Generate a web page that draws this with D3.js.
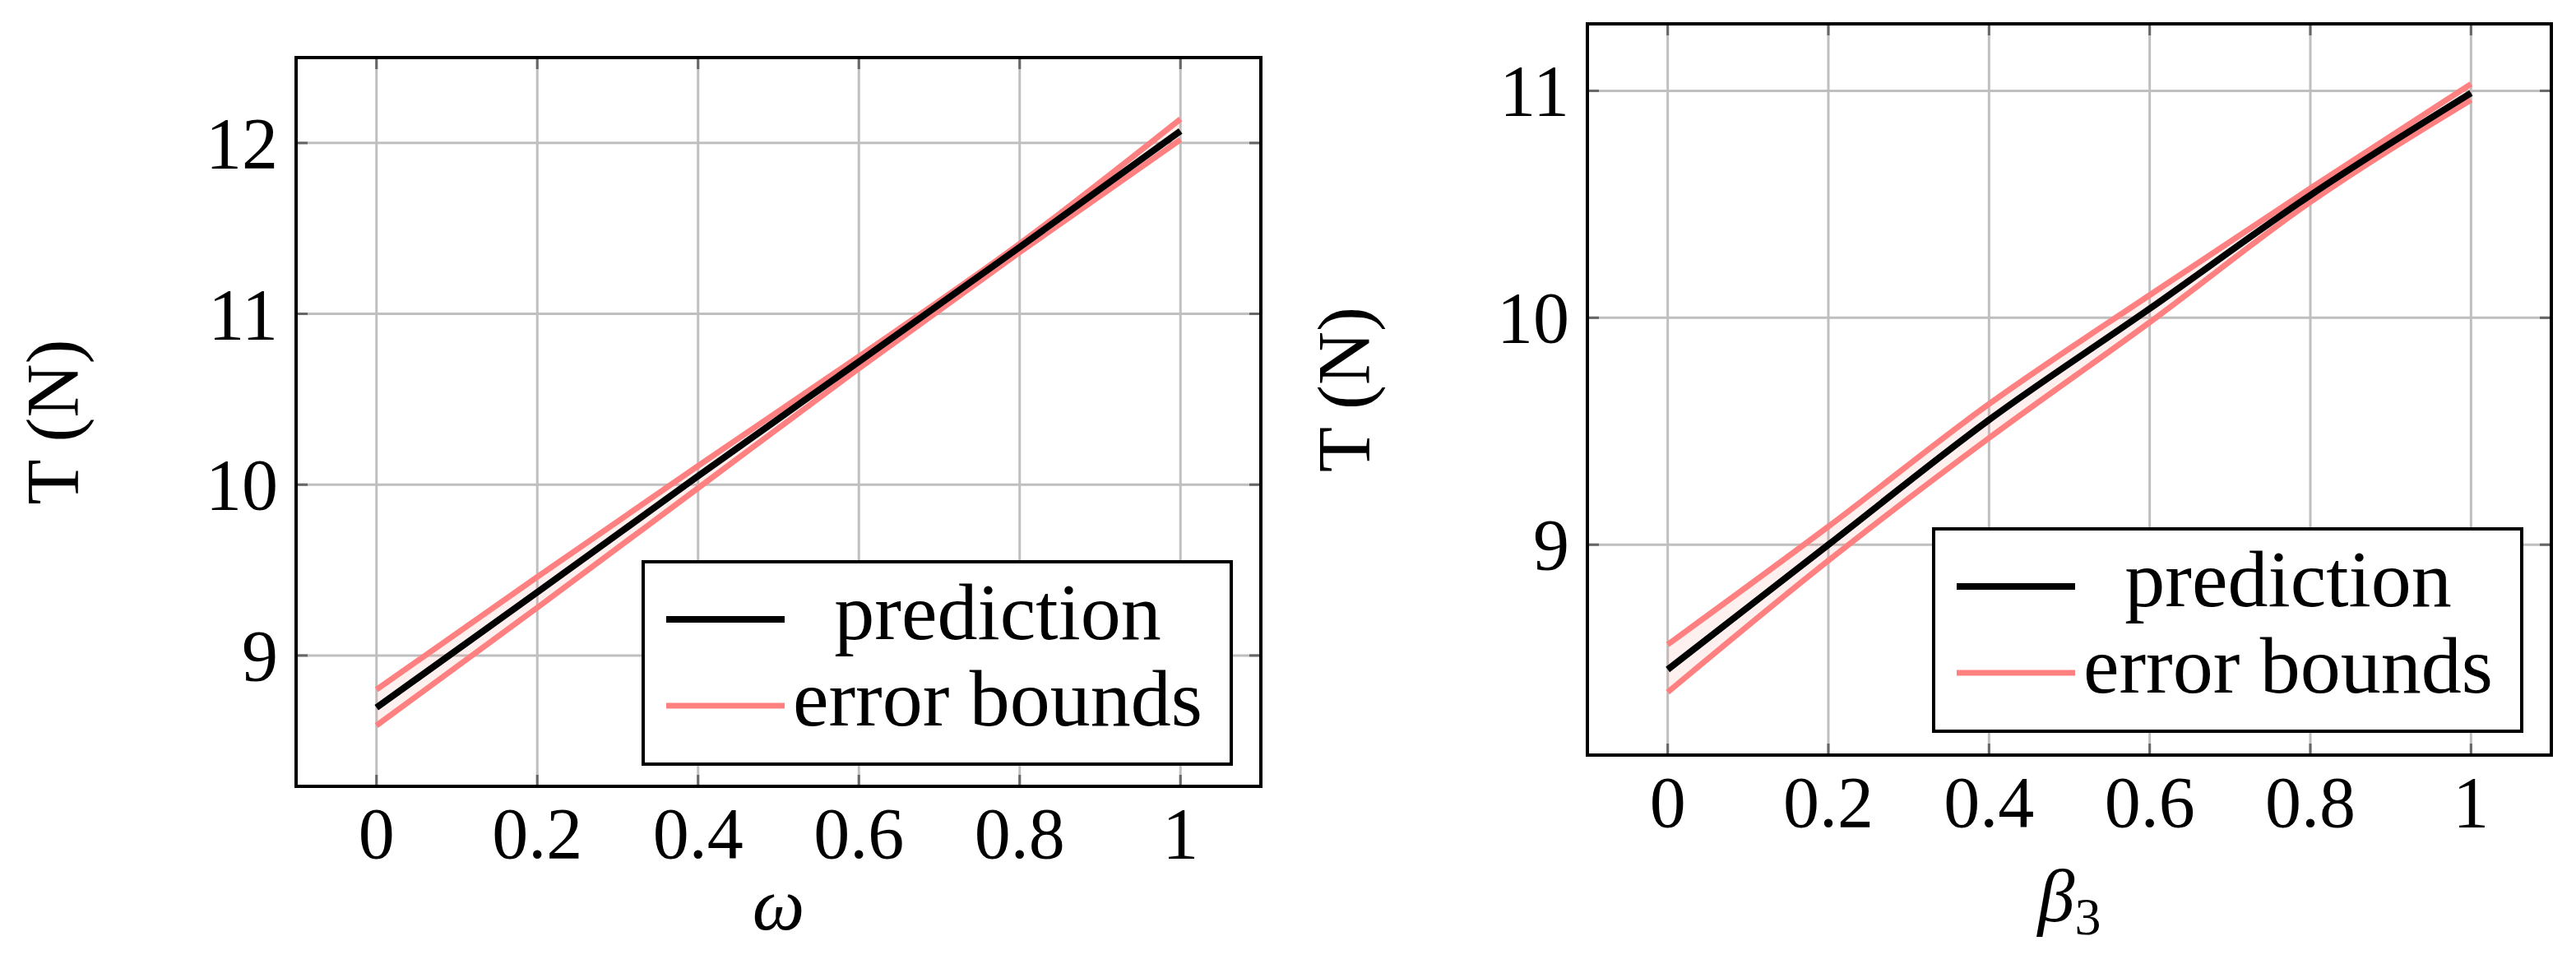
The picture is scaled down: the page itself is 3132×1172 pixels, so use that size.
<!DOCTYPE html>
<html><head><meta charset="utf-8">
<script src="https://cdn.jsdelivr.net/npm/d3@7"></script>
<style>body{margin:0;background:#fff}</style>
</head><body><div id="chart"></div>
<script>
// values
var xTicks = [0, 0.2, 0.4, 0.6, 0.8, 1];
var xTickLabels = ["0", "0.2", "0.4", "0.6", "0.8", "1"];

var omegaX = [0, 0.2, 0.4, 0.6, 0.8, 1];
var omegaPred = [8.695, 9.37, 10.05, 10.72, 11.39, 12.07];
var omegaUpper = [8.80, 9.46, 10.11, 10.75, 11.41, 12.14];
var omegaLower = [8.59, 9.28, 9.98, 10.68, 11.36, 12.02];
var omegaYTicks = [9, 10, 11, 12];

var betaX = [0, 0.2, 0.4, 0.6, 0.8, 1];
var betaPred = [8.45, 9.00, 9.55, 10.04, 10.54, 10.99];
var betaUpper = [8.56, 9.08, 9.62, 10.10, 10.57, 11.03];
var betaLower = [8.35, 8.93, 9.47, 9.98, 10.51, 10.96];
var betaYTicks = [9, 10, 11];

var legendLabels = ["prediction", "error bounds"];
var predColor = "#000000";
var boundColor = "#ff8080";
var serif = "'Liberation Serif', 'DejaVu Serif', serif";

var svg = d3.select("#chart").append("svg")
    .attr("width", 3132).attr("height", 1172);

function drawPanel(opt){
    var x = d3.scaleLinear().domain([-0.1, 1.1]).range([opt.left, opt.right]);
    var y = d3.scaleLinear().domain(opt.yDomain).range([opt.bottom, opt.top]);
    var g = svg.append("g");

    // grid
    g.selectAll(".gx").data(xTicks).enter().append("line")
        .attr("x1", d => x(d)).attr("x2", d => x(d))
        .attr("y1", opt.top).attr("y2", opt.bottom)
        .attr("stroke", "#bfbfbf").attr("stroke-width", 3);
    g.selectAll(".gy").data(opt.yTicks).enter().append("line")
        .attr("y1", d => y(d)).attr("y2", d => y(d))
        .attr("x1", opt.left).attr("x2", opt.right)
        .attr("stroke", "#bfbfbf").attr("stroke-width", 3);

    // tick marks inside the frame
    xTicks.forEach(function(t){
        [[opt.top, opt.top + 14], [opt.bottom, opt.bottom - 14]].forEach(function(s){
            g.append("line").attr("x1", x(t)).attr("x2", x(t)).attr("y1", s[0]).attr("y2", s[1])
                .attr("stroke", "#666").attr("stroke-width", 3);
        });
    });
    opt.yTicks.forEach(function(t){
        [[opt.left, opt.left + 14], [opt.right, opt.right - 14]].forEach(function(s){
            g.append("line").attr("y1", y(t)).attr("y2", y(t)).attr("x1", s[0]).attr("x2", s[1])
                .attr("stroke", "#666").attr("stroke-width", 3);
        });
    });

    var pts = opt.xs.map((d, i) => ({x: d, p: opt.pred[i], u: opt.upper[i], l: opt.lower[i]}));
    var curve = d3.curveMonotoneX;

    g.append("path").datum(pts)
        .attr("d", d3.area().x(d => x(d.x)).y0(d => y(d.l)).y1(d => y(d.u)).curve(curve))
        .attr("fill", boundColor).attr("fill-opacity", 0.12);
    ["u", "l"].forEach(function(k){
        g.append("path").datum(pts)
            .attr("d", d3.line().x(d => x(d.x)).y(d => y(d[k])).curve(curve))
            .attr("fill", "none").attr("stroke", boundColor).attr("stroke-width", 7);
    });
    g.append("path").datum(pts)
        .attr("d", d3.line().x(d => x(d.x)).y(d => y(d.p)).curve(curve))
        .attr("fill", "none").attr("stroke", predColor).attr("stroke-width", 8);

    // frame
    g.append("rect").attr("x", opt.left).attr("y", opt.top)
        .attr("width", opt.right - opt.left).attr("height", opt.bottom - opt.top)
        .attr("fill", "none").attr("stroke", "#000").attr("stroke-width", 4);

    // tick labels
    g.selectAll(".tx").data(xTicks).enter().append("text")
        .attr("x", d => x(d)).attr("y", opt.bottom + 87)
        .attr("text-anchor", "middle").attr("font-family", serif).attr("font-size", 88)
        .text((d, i) => xTickLabels[i]);
    g.selectAll(".ty").data(opt.yTicks).enter().append("text")
        .attr("x", opt.left - 22).attr("y", d => y(d) + 30)
        .attr("text-anchor", "end").attr("font-family", serif).attr("font-size", 88)
        .text(d => d);

    // axis titles
    g.append("text")
        .attr("transform", "translate(" + opt.yTitleX + "," + ((opt.top + opt.bottom) / 2) + ") rotate(-90)")
        .attr("text-anchor", "middle").attr("font-family", serif).attr("font-size", 90)
        .text("T (N)");
    var xt = g.append("text").attr("x", (opt.left + opt.right) / 2).attr("y", opt.xTitleY)
        .attr("text-anchor", "middle").attr("font-family", serif).attr("font-size", 90)
        .attr("font-style", "italic");
    if (opt.beta) {
        xt.text("β");
        xt.append("tspan").attr("font-style", "normal").attr("font-size", 64).attr("dy", 16).text("3");
    } else {
        xt.text("ω");
    }

    // legend
    var lg = g.append("g");
    lg.append("rect").attr("x", opt.lg[0]).attr("y", opt.lg[1])
        .attr("width", opt.lg[2] - opt.lg[0]).attr("height", opt.lg[3] - opt.lg[1])
        .attr("fill", "#fff").attr("stroke", "#000").attr("stroke-width", 4);
    legendLabels.forEach(function(lab, i){
        var cy = opt.lg[1] + (i === 0 ? 70 : 175);
        lg.append("line").attr("x1", opt.lg[0] + 28).attr("x2", opt.lg[0] + 172)
            .attr("y1", cy).attr("y2", cy)
            .attr("stroke", i === 0 ? predColor : boundColor).attr("stroke-width", i === 0 ? 8 : 7);
        lg.append("text").attr("x", opt.lg[0] + 431).attr("y", cy + 24)
            .attr("text-anchor", "middle").attr("font-family", serif).attr("font-size", 98)
            .text(lab);
    });
}

drawPanel({left: 360, right: 1533, top: 70, bottom: 956, yDomain: [8.234, 12.5],
    yTicks: omegaYTicks, xs: omegaX, pred: omegaPred, upper: omegaUpper, lower: omegaLower,
    yTitleX: 95, xTitleY: 1130, lg: [782, 683, 1497, 929], beta: false});

drawPanel({left: 1930, right: 3102, top: 29, bottom: 918, yDomain: [8.073, 11.295],
    yTicks: betaYTicks, xs: betaX, pred: betaPred, upper: betaUpper, lower: betaLower,
    yTitleX: 1665, xTitleY: 1120, lg: [2351, 643, 3066, 889], beta: true});
</script>
</body></html>
